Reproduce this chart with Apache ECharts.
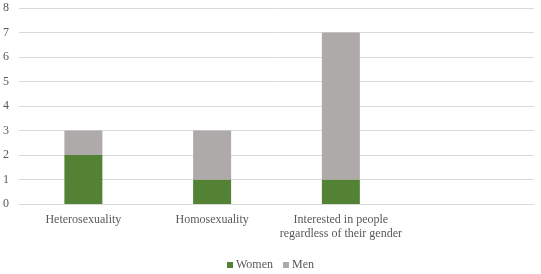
<!DOCTYPE html>
<html><head><meta charset="utf-8">
<script src="https://cdn.jsdelivr.net/npm/echarts@6/dist/echarts.min.js"></script>
<style>html,body{margin:0;padding:0;background:#fff}#c{width:541px;height:274px}</style>
</head><body><div id="c"></div>
<script>
const categories = ['Heterosexuality', 'Homosexuality', 'Interested in people\nregardless of their gender', ''];
const women = [2, 1, 1, null];
const men = [1, 2, 6, null];
const yTicks = {min: 0, max: 8, interval: 1};

const font = '"Liberation Serif", "Times New Roman", serif';
const chart = echarts.init(document.getElementById('c'), null, {renderer: 'canvas'});
chart.setOption({
  animation: false,
  grid: {left: 18, right: 7, top: 8, bottom: 70, containLabel: false},
  legend: {
    bottom: 3, left: 'center', itemWidth: 6, itemHeight: 6, itemGap: 10,
    padding: 0,
    icon: 'rect',
    textStyle: {fontFamily: font, fontSize: 12, color: '#595959', padding: [0,0,0,-2]},
    data: ['Women', 'Men']
  },
  xAxis: {
    type: 'category', data: categories,
    axisLine: {lineStyle: {color: '#d9d9d9'}},
    axisTick: {show: false},
    axisLabel: {fontFamily: font, fontSize: 12, color: '#595959', margin: 9, lineHeight: 14, interval: 0}
  },
  yAxis: {
    type: 'value', min: yTicks.min, max: yTicks.max, interval: yTicks.interval,
    axisLine: {show: false}, axisTick: {show: false},
    splitLine: {lineStyle: {color: '#d9d9d9'}},
    axisLabel: {fontFamily: font, fontSize: 12, color: '#595959', margin: 10}
  },
  series: [
    {name: 'Women', type: 'bar', stack: 's', data: women, barWidth: '29.5%', itemStyle: {color: '#548235'}},
    {name: 'Men', type: 'bar', stack: 's', data: men, barWidth: '29.5%', itemStyle: {color: '#aeaaaa'}}
  ]
});
</script></body></html>
